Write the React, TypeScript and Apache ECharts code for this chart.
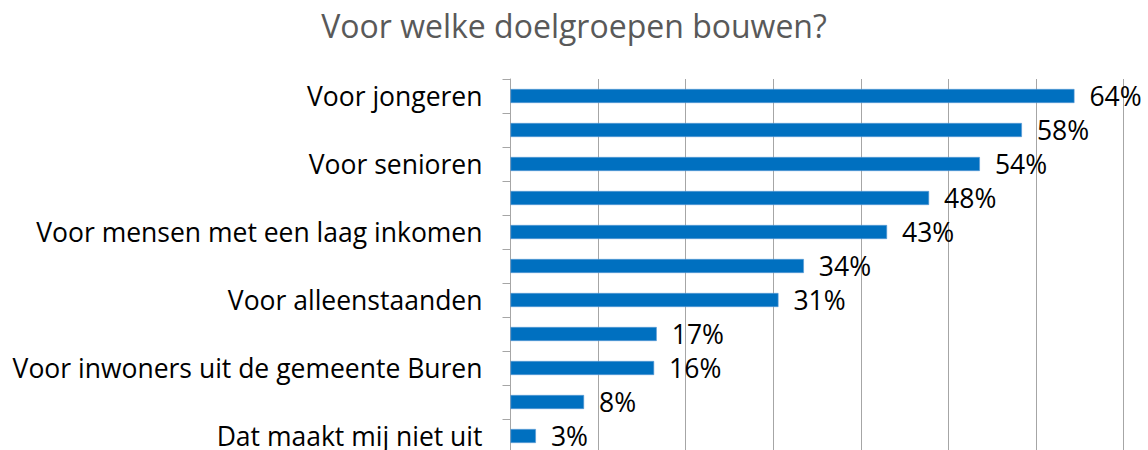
import React, { useEffect, useRef } from "react";
import * as echarts from "echarts";

const titleText = "Voor welke doelgroepen bouwen?";
const categories = [
  "Voor jongeren",
  "Voor starters",
  "Voor senioren",
  "Voor gezinnen met kinderen",
  "Voor mensen met een laag inkomen",
  "Voor mensen met een middeninkomen",
  "Voor alleenstaanden",
  "Voor mensen met een zorgvraag",
  "Voor inwoners uit de gemeente Buren",
  "Voor mensen van buiten de gemeente",
  "Dat maakt mij niet uit",
];
const values = [64.4, 58.4, 53.6, 47.8, 43.0, 33.5, 30.6, 16.7, 16.4, 8.4, 2.9];
const axisMin = 0;
const axisMax = 70;
const axisStep = 10;

const FONT = "'Open Sans', 'Noto Sans', sans-serif";

export default function App() {
  const ref = useRef<HTMLDivElement>(null);
  useEffect(() => {
    if (!ref.current) return;
    const chart = echarts.init(ref.current, null, { renderer: "svg" });
    chart.setOption({
      animation: false,
      backgroundColor: "#ffffff",
      textStyle: { fontFamily: FONT },
      title: {
        text: titleText,
        left: "center",
        top: 4,
        textStyle: {
          fontFamily: FONT,
          fontSize: 32,
          fontWeight: "normal",
          color: "#595959",
        },
      },
      grid: {
        left: 510.5,
        right: 24.5,
        top: 79,
        height: 374,
        outerBoundsMode: "none",
        containLabel: false,
      },
      xAxis: {
        type: "value",
        min: axisMin,
        max: axisMax,
        interval: axisStep,
        axisLabel: { show: false },
        axisTick: { show: false },
        axisLine: { show: false },
        splitLine: { show: true, lineStyle: { color: "#a6a6a6", width: 1 } },
      },
      yAxis: {
        type: "category",
        inverse: true,
        data: categories,
        axisLine: { show: true, lineStyle: { color: "#a6a6a6", width: 1 } },
        axisTick: {
          show: true,
          interval: 0,
          length: 8,
          lineStyle: { color: "#a6a6a6" },
        },
        axisLabel: {
          interval: 1,
          margin: 28,
          fontSize: 26.5,
          lineHeight: 24,
          color: "#000000",
          fontFamily: FONT,
        },
      },
      series: [
        {
          type: "bar",
          data: values,
          barWidth: 14,
          itemStyle: { color: "#0070C0", borderColor: "#5a9bd5", borderWidth: 0.6 },
          label: {
            show: true,
            position: "right",
            distance: 15,
            formatter: (p: any) => Math.round(p.value) + "%",
            fontSize: 26.5,
            lineHeight: 24,
            color: "#000000",
            fontFamily: FONT,
          },
        },
      ],
    });
    return () => chart.dispose();
  }, []);
  return (
    <div
      ref={ref}
      style={{ position: "absolute", left: 0, top: 0, width: 1148, height: 450 }}
    />
  );
}
